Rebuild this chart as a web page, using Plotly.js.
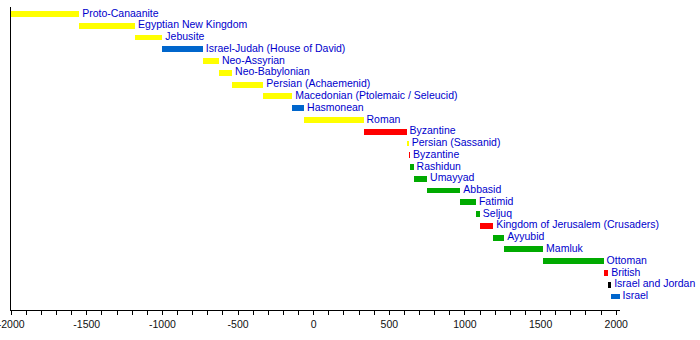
<!DOCTYPE html>
<html>
<head>
<meta charset="utf-8">
<script src="https://cdn.plot.ly/plotly-3.0.1.min.js"></script>
<style>html,body{margin:0;padding:0;background:#fff;}#chart{width:700px;height:340px;}</style>
</head>
<body>
<div id="chart"></div>
<script>
const rulers = ["Proto-Canaanite","Egyptian New Kingdom","Jebusite","Israel-Judah (House of David)","Neo-Assyrian","Neo-Babylonian","Persian (Achaemenid)","Macedonian (Ptolemaic / Seleucid)","Hasmonean","Roman","Byzantine","Persian (Sassanid)","Byzantine","Rashidun","Umayyad","Abbasid","Fatimid","Seljuq","Kingdom of Jerusalem (Crusaders)","Ayyubid","Mamluk","Ottoman","British","Israel and Jordan","Israel"];
const startYears = [-2000,-1550,-1180,-1000,-732,-626,-539,-332,-141,-63,330,614,629,638,661,750,970,1073,1099,1187,1260,1517,1917,1948,1967];
const endYears   = [-1550,-1180,-1000,-732,-626,-539,-332,-141,-63,330,614,629,638,661,750,970,1073,1099,1187,1260,1517,1917,1948,1967,2022];
const groups = ["other","other","other","jewish","other","other","other","other","jewish","other","christian","other","christian","muslim","muslim","muslim","muslim","muslim","christian","muslim","muslim","muslim","christian","divided","jewish"];
const groupColors = {other:"#ffff00", jewish:"#0066cc", christian:"#ff0000", muslim:"#00aa00", divided:"#000000"};
const tickYears = [-2000,-1500,-1000,-500,0,500,1000,1500,2000];
const tickLabels = ["-2000","-1500","-1000","-500","0","500","1000","1500","2000"];

const rows = rulers.map((_, i) => i);
const barTrace = {
  type: "bar",
  orientation: "h",
  y: rows,
  base: startYears,
  x: endYears.map((e, i) => e - startYears[i]),
  width: 0.5,
  marker: {color: groups.map(g => groupColors[g]), line: {width: 0}},
  hoverinfo: "skip",
  showlegend: false
};
const labelTrace = {
  type: "scatter",
  mode: "text",
  x: endYears,
  y: rows,
  text: rulers,
  texttemplate: "\u00a0%{text}",
  textposition: "middle right",
  textfont: {family: "Liberation Sans, Arial, sans-serif", size: 10.5, color: "#0000cc"},
  cliponaxis: false,
  hoverinfo: "skip",
  showlegend: false
};

const layout = {
  width: 700, height: 340,
  margin: {l: 11, r: 79.5, t: 7, b: 30},
  paper_bgcolor: "#ffffff", plot_bgcolor: "#ffffff",
  bargap: 0,
  xaxis: {
    range: [-2001, 2025],
    showgrid: false, zeroline: false,
    showline: true, linecolor: "#000", linewidth: 1,
    tickvals: tickYears, ticktext: tickLabels,
    ticklabeloverflow: "allow",
    ticks: "outside", ticklen: 4, tickcolor: "#000", tickwidth: 1,
    minor: {dtick: 100, tick0: 0, ticks: "outside", ticklen: 4, tickcolor: "#000", tickwidth: 1, showgrid: false},
    tickfont: {family: "Liberation Sans, Arial, sans-serif", size: 10.5, color: "#111"},
    fixedrange: true
  },
  yaxis: {
    range: [25.15, -0.595],
    showgrid: false, zeroline: false,
    showline: true, linecolor: "#000", linewidth: 1,
    showticklabels: false, ticks: "",
    fixedrange: true
  },
  font: {family: "Liberation Sans, Arial, sans-serif"}
};

Plotly.newPlot("chart", [barTrace, labelTrace], layout, {displayModeBar: false, staticPlot: true});
</script>
</body>
</html>
